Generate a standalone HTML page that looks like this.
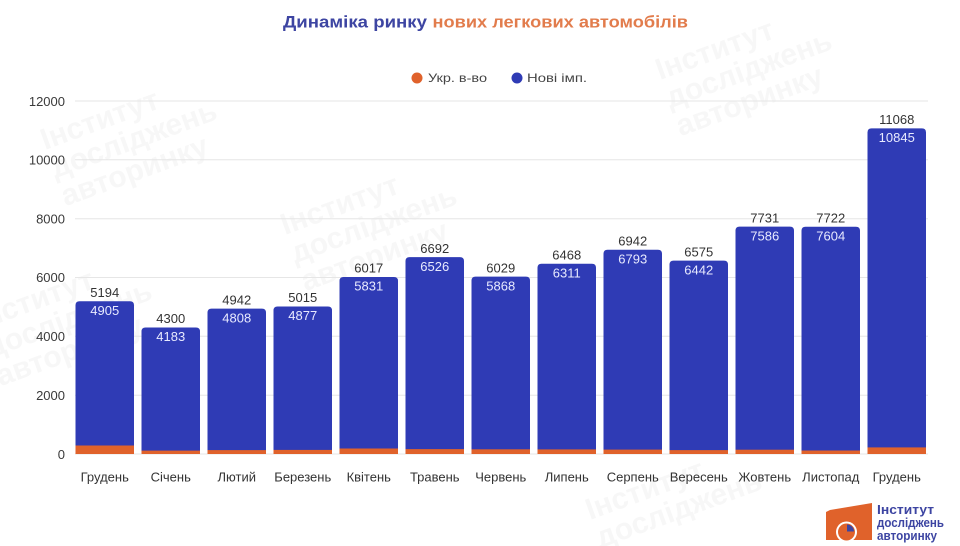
<!DOCTYPE html>
<html>
<head>
<meta charset="utf-8">
<style>
  html,body{margin:0;padding:0;background:#fff;}
  svg{display:block;}
  text{font-family:"Liberation Sans","Noto Sans CJK SC",sans-serif;}
</style>
</head>
<body>
<svg width="960" height="546" viewBox="0 0 960 546" xmlns="http://www.w3.org/2000/svg">
  <rect width="960" height="546" fill="#ffffff"/>

  <!-- faint watermark -->
  <g fill="#f7f7f7" font-weight="bold" font-size="30">
    <g transform="translate(45,150) rotate(-20)">
      <text x="0" y="0">Інститут</text>
      <text x="0" y="30">досліджень</text>
      <text x="0" y="60">авторинку</text>
    </g>
    <g transform="translate(285,235) rotate(-20)">
      <text x="0" y="0">Інститут</text>
      <text x="0" y="30">досліджень</text>
      <text x="0" y="60">авторинку</text>
    </g>
    <g transform="translate(660,80) rotate(-20)">
      <text x="0" y="0">Інститут</text>
      <text x="0" y="30">досліджень</text>
      <text x="0" y="60">авторинку</text>
    </g>
    <g transform="translate(-20,330) rotate(-20)">
      <text x="0" y="0">Інститут</text>
      <text x="0" y="30">досліджень</text>
      <text x="0" y="60">авторинку</text>
    </g>
    <g transform="translate(590,520) rotate(-20)">
      <text x="0" y="0">Інститут</text>
      <text x="0" y="30">досліджень</text>
    </g>
  </g>

  <!-- Title -->
  <text x="283" y="27.5" font-size="16.5" font-weight="bold" fill="#3d45a2" textLength="144" lengthAdjust="spacingAndGlyphs">Динаміка ринку</text>
  <text x="432.5" y="27.5" font-size="16.5" font-weight="bold" fill="#e27c4c" textLength="255.5" lengthAdjust="spacingAndGlyphs">нових легкових автомобілів</text>

  <!-- Legend -->
  <circle cx="417" cy="78" r="5.5" fill="#e0622b"/>
  <text x="428" y="82" font-size="12" fill="#444" textLength="59" lengthAdjust="spacingAndGlyphs">Укр. в-во</text>
  <circle cx="517" cy="78" r="5.5" fill="#2f3bb5"/>
  <text x="527" y="82" font-size="12" fill="#444" textLength="60" lengthAdjust="spacingAndGlyphs">Нові імп.</text>

  <!-- Gridlines -->
  <g stroke="#e6e6e6" stroke-width="1">
    <line x1="75" y1="101" x2="928" y2="101"/>
    <line x1="75" y1="159.8" x2="928" y2="159.8"/>
    <line x1="75" y1="218.7" x2="928" y2="218.7"/>
    <line x1="75" y1="277.5" x2="928" y2="277.5"/>
    <line x1="75" y1="336.3" x2="928" y2="336.3"/>
    <line x1="75" y1="395.2" x2="928" y2="395.2"/>
    <line x1="75" y1="454" x2="928" y2="454"/>
  </g>

  <!-- Y labels -->
  <g font-size="13" fill="#3a3a3a" text-anchor="end">
    <text x="65" y="106">12000</text>
    <text x="65" y="164.5">10000</text>
    <text x="65" y="223.3">8000</text>
    <text x="65" y="282">6000</text>
    <text x="65" y="341">4000</text>
    <text x="65" y="400">2000</text>
    <text x="65" y="459">0</text>
  </g>

  <!-- Bars -->
  <g fill="#2f3bb5">
    <path d="M75.5,454 V305.2 Q75.5,301.2 79.5,301.2 H130 Q134,301.2 134,305.2 V454 Z"/>
    <path d="M141.5,454 V331.5 Q141.5,327.5 145.5,327.5 H196 Q200,327.5 200,331.5 V454 Z"/>
    <path d="M207.5,454 V312.6 Q207.5,308.6 211.5,308.6 H262 Q266,308.6 266,312.6 V454 Z"/>
    <path d="M273.5,454 V310.5 Q273.5,306.5 277.5,306.5 H328 Q332,306.5 332,310.5 V454 Z"/>
    <path d="M339.5,454 V281 Q339.5,277 343.5,277 H394 Q398,277 398,281 V454 Z"/>
    <path d="M405.5,454 V261.1 Q405.5,257.1 409.5,257.1 H460 Q464,257.1 464,261.1 V454 Z"/>
    <path d="M471.5,454 V280.6 Q471.5,276.6 475.5,276.6 H526 Q530,276.6 530,280.6 V454 Z"/>
    <path d="M537.5,454 V267.7 Q537.5,263.7 541.5,263.7 H592 Q596,263.7 596,267.7 V454 Z"/>
    <path d="M603.5,454 V253.8 Q603.5,249.8 607.5,249.8 H658 Q662,249.8 662,253.8 V454 Z"/>
    <path d="M669.5,454 V264.6 Q669.5,260.6 673.5,260.6 H724 Q728,260.6 728,264.6 V454 Z"/>
    <path d="M735.5,454 V230.6 Q735.5,226.6 739.5,226.6 H790 Q794,226.6 794,230.6 V454 Z"/>
    <path d="M801.5,454 V230.8 Q801.5,226.8 805.5,226.8 H856 Q860,226.8 860,230.8 V454 Z"/>
    <path d="M867.5,454 V132.4 Q867.5,128.4 871.5,128.4 H922 Q926,128.4 926,132.4 V454 Z"/>
  </g>
  <g fill="#e0622b">
    <rect x="75.5" y="445.5" width="58.5" height="8.5"/>
    <rect x="141.5" y="450.6" width="58.5" height="3.4"/>
    <rect x="207.5" y="450.1" width="58.5" height="3.9"/>
    <rect x="273.5" y="449.9" width="58.5" height="4.1"/>
    <rect x="339.5" y="448.5" width="58.5" height="5.5"/>
    <rect x="405.5" y="449.1" width="58.5" height="4.9"/>
    <rect x="471.5" y="449.3" width="58.5" height="4.7"/>
    <rect x="537.5" y="449.4" width="58.5" height="4.6"/>
    <rect x="603.5" y="449.6" width="58.5" height="4.4"/>
    <rect x="669.5" y="450.1" width="58.5" height="3.9"/>
    <rect x="735.5" y="449.7" width="58.5" height="4.3"/>
    <rect x="801.5" y="450.5" width="58.5" height="3.5"/>
    <rect x="867.5" y="447.4" width="58.5" height="6.6"/>
  </g>

  <!-- Total labels -->
  <g font-size="13" fill="#333" text-anchor="middle">
    <text x="104.75" y="296.9">5194</text>
    <text x="170.75" y="323.2">4300</text>
    <text x="236.75" y="304.3">4942</text>
    <text x="302.75" y="302.2">5015</text>
    <text x="368.75" y="272.7">6017</text>
    <text x="434.75" y="252.8">6692</text>
    <text x="500.75" y="272.3">6029</text>
    <text x="566.75" y="259.4">6468</text>
    <text x="632.75" y="245.5">6942</text>
    <text x="698.75" y="256.3">6575</text>
    <text x="764.75" y="222.3">7731</text>
    <text x="830.75" y="222.5">7722</text>
    <text x="896.75" y="124.1">11068</text>
  </g>
  <!-- Import labels -->
  <g font-size="13" fill="#e8eaff" text-anchor="middle">
    <text x="104.75" y="314.9">4905</text>
    <text x="170.75" y="341.2">4183</text>
    <text x="236.75" y="322.3">4808</text>
    <text x="302.75" y="320.2">4877</text>
    <text x="368.75" y="290.7">5831</text>
    <text x="434.75" y="270.8">6526</text>
    <text x="500.75" y="290.3">5868</text>
    <text x="566.75" y="277.4">6311</text>
    <text x="632.75" y="263.5">6793</text>
    <text x="698.75" y="274.3">6442</text>
    <text x="764.75" y="240.3">7586</text>
    <text x="830.75" y="240.5">7604</text>
    <text x="896.75" y="142.1">10845</text>
  </g>

  <!-- X labels -->
  <g font-size="13" fill="#333" text-anchor="middle">
    <text x="104.75" y="481.5">Грудень</text>
    <text x="170.75" y="481.5">Січень</text>
    <text x="236.75" y="481.5">Лютий</text>
    <text x="302.75" y="481.5">Березень</text>
    <text x="368.75" y="481.5">Квітень</text>
    <text x="434.75" y="481.5">Травень</text>
    <text x="500.75" y="481.5">Червень</text>
    <text x="566.75" y="481.5">Липень</text>
    <text x="632.75" y="481.5">Серпень</text>
    <text x="698.75" y="481.5">Вересень</text>
    <text x="764.75" y="481.5">Жовтень</text>
    <text x="830.75" y="481.5">Листопад</text>
    <text x="896.75" y="481.5">Грудень</text>
  </g>

  <!-- Logo -->
  <g>
    <path d="M826,512 L830,510 L872,503 L872,540 L826,540 Z" fill="#e0622b"/>
    <circle cx="846.5" cy="532" r="10.5" fill="#ffffff"/>
    <circle cx="846.5" cy="532" r="8.5" fill="#e0622b"/>
    <path d="M847,531.5 L847,524.5 A7,7 0 0 1 854,531.5 Z" fill="#3d45a2"/>
  </g>
  <g font-size="12.5" font-weight="bold" fill="#3d45a2">
    <text x="877" y="514" textLength="57" lengthAdjust="spacingAndGlyphs">Інститут</text>
    <text x="877" y="527" textLength="67" lengthAdjust="spacingAndGlyphs">досліджень</text>
    <text x="877" y="540" textLength="60" lengthAdjust="spacingAndGlyphs">авторинку</text>
  </g>
</svg>
</body>
</html>
